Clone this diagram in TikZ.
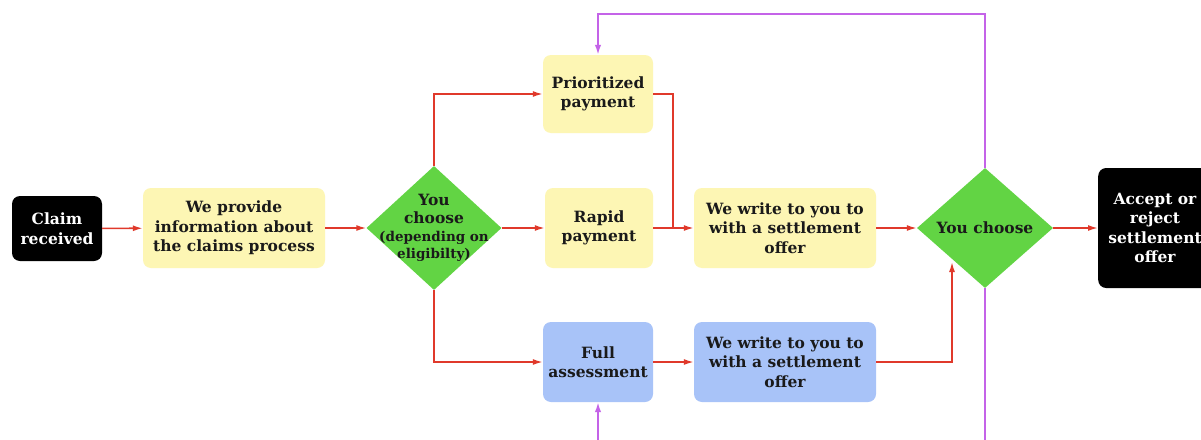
\documentclass[tikz,border=0pt]{standalone}
\usepackage{fontspec}
\setmainfont{DejaVu Serif}
\usetikzlibrary{arrows.meta,shapes.geometric}
\definecolor{boxyellow}{HTML}{FDF6B4}
\definecolor{boxblue}{HTML}{A8C3F8}
\definecolor{dgreen}{HTML}{62D444}
\definecolor{flowred}{HTML}{E0392B}
\definecolor{loopviolet}{HTML}{C463E8}
\definecolor{ink}{HTML}{1A1A1A}
\tikzset{
  txt/.style={font=\fontsize{15.5}{19.5}\selectfont\bfseries, align=center, text=ink},
  yb/.style={txt, rectangle, rounded corners=8pt, fill=boxyellow, inner sep=0pt},
  bb/.style={txt, rectangle, rounded corners=8pt, fill=boxblue, inner sep=0pt},
  kb/.style={txt, rectangle, rounded corners=8pt, fill=black, text=white, inner sep=0pt},
  dia/.style={diamond, fill=dgreen, inner sep=0pt, minimum width=135pt, minimum height=124pt},
  flow/.style={draw=flowred, line width=1.6pt, -{Latex[length=10pt,width=6pt]}},
  flowplain/.style={draw=flowred, line width=1.6pt},
  loop/.style={draw=loopviolet, line width=1.8pt, -{Latex[length=10pt,width=6.5pt]}}
}
\begin{document}
\begin{tikzpicture}[x=1pt,y=-1pt]
\useasboundingbox (0,0) rectangle (1201,439);
\clip (0,0) rectangle (1201,439);
\fill[white] (0,0) rectangle (1201,439);

\node[kb, minimum width=90pt, minimum height=65pt] (claim) at (57,228.5) {Claim\\received};
\node[yb, minimum width=182pt, minimum height=80pt] (info) at (234,228) {We provide\\information about\\the claims process};
\node[dia] (d1) at (434,228) {};
\node[txt] (d1t) at (d1.center) {You\\[-1pt]choose\\[-2pt]{\fontsize{13.5}{16}\selectfont\bfseries(depending on}\\[-2pt]{\fontsize{13.5}{16}\selectfont\bfseries eligibilty)}};
\node[yb, minimum width=110pt, minimum height=78pt] (prio) at (598,94) {Prioritized\\payment};
\node[yb, minimum width=108pt, minimum height=80pt] (rapid) at (599,228) {Rapid\\payment};
\node[bb, minimum width=110pt, minimum height=80pt] (full) at (598,362) {Full\\assessment};
\node[yb, minimum width=182pt, minimum height=80pt] (wy) at (785,228) {We write to you to\\with a settlement\\offer};
\node[bb, minimum width=182pt, minimum height=80pt] (wb) at (785,362) {We write to you to\\with a settlement\\offer};
\node[dia, minimum width=136pt, minimum height=120pt] (d2) at (985,228) {};
\node[txt] (d2t) at (d2.center) {You choose};
\node[kb, minimum width=120pt, minimum height=120pt, anchor=west] (acc) at (1098,228) {};
\node[txt, text=white] (acct) at (1155,228) {Accept or\\reject\\settlement\\offer};

\coordinate (pj) at (673,228);
\coordinate (bl) at (985,460);

\draw[flow] (claim) -- (info);
\draw[flow] (info) -- (d1);
\draw[flow] (d1) -- (rapid);
\draw[flow] (d1.north) |- (prio.west);
\draw[flow] (d1.south) |- (full.west);
\draw[flowplain] (prio.east) -| (pj);
\draw[flow] (rapid) -- (wy);
\draw[flow] (full) -- (wb);
\draw[flow] (wy) -- (d2);
\draw[flow] (wb.east) -| (952,262);
\draw[flow] (d2) -- (acc);
\draw[loop] (d2.north) -- (985,14) -| (prio.north);
\draw[loop] (d2.south) -- (bl) -| (full.south);
\end{tikzpicture}
\end{document}
